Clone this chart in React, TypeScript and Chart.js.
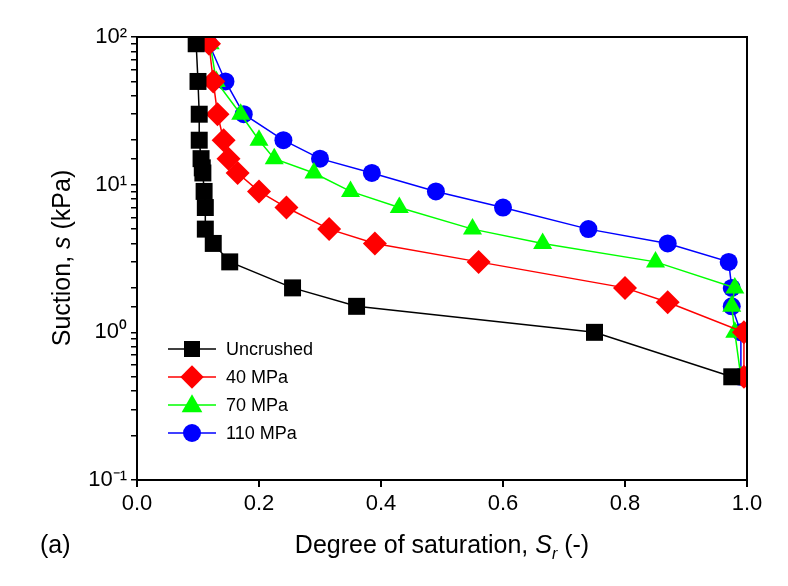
import React, { useEffect, useRef } from "react";
import { Chart, registerables } from "chart.js";
Chart.register(...registerables);

const uncrushedX = [0.097, 0.1, 0.102, 0.102, 0.105, 0.107, 0.108, 0.11, 0.112, 0.112, 0.125, 0.152, 0.255, 0.36, 0.75, 0.975];
const uncrushedY = [90, 50, 30, 20, 15, 13, 12, 9, 7, 5, 4, 3, 2, 1.5, 1, 0.5];
const mpa40X = [0.118, 0.125, 0.132, 0.142, 0.15, 0.165, 0.2, 0.245, 0.315, 0.39, 0.56, 0.8, 0.87, 0.995, 0.995];
const mpa40Y = [90, 50, 30, 20, 15, 12, 9, 7, 5, 4, 3, 2, 1.6, 1, 0.5];
const mpa70X = [0.12, 0.13, 0.17, 0.2, 0.225, 0.29, 0.35, 0.43, 0.55, 0.665, 0.85, 0.98, 0.975, 0.98, 0.99];
const mpa70Y = [90, 50, 30, 20, 15, 12, 9, 7, 5, 4, 3, 2, 1.5, 1, 0.5];
const mpa110X = [0.118, 0.145, 0.175, 0.24, 0.3, 0.385, 0.49, 0.6, 0.74, 0.87, 0.97, 0.975, 0.975, 0.99, 0.99];
const mpa110Y = [90, 50, 30, 20, 15, 12, 9, 7, 5, 4, 3, 2, 1.5, 1, 0.5];
const xTicks = [0, 0.2, 0.4, 0.6, 0.8, 1.0];
const yTickLabels: Record<string, string> = { "0.1": "10⁻¹", "1": "10⁰", "10": "10¹", "100": "10²" };

const series = [
  { label: "Uncrushed", x: uncrushedX, y: uncrushedY, color: "#000000", style: "rect", r: 8, pr: 12 },
  { label: "40 MPa", x: mpa40X, y: mpa40Y, color: "#ff0000", style: "rectRot", r: 9, pr: 12 },
  { label: "70 MPa", x: mpa70X, y: mpa70Y, color: "#00ff00", style: "triangle", r: 9, pr: 11 },
  { label: "110 MPa", x: mpa110X, y: mpa110Y, color: "#0000ff", style: "circle", r: 9, pr: 9 },
];

export default function App() {
  const ref = useRef<HTMLCanvasElement>(null);
  useEffect(() => {
    document.body.style.margin = "0";
    const FONT = "Liberation Sans, Arial, sans-serif";
    const drawPt = (ctx: any, style: string, x: number, y: number, r: number, color: string) => {
      ctx.save();
      ctx.fillStyle = color;
      ctx.beginPath();
      if (style === "rect") ctx.rect(x - r, y - r, 2 * r, 2 * r);
      else if (style === "rectRot") { ctx.moveTo(x, y - r * 1.3); ctx.lineTo(x + r * 1.3, y); ctx.lineTo(x, y + r * 1.3); ctx.lineTo(x - r * 1.3, y); ctx.closePath(); }
      else if (style === "triangle") { ctx.moveTo(x, y - r * 1.2); ctx.lineTo(x + r * 1.15, y + r * 0.8); ctx.lineTo(x - r * 1.15, y + r * 0.8); ctx.closePath(); }
      else ctx.arc(x, y, r, 0, Math.PI * 2);
      ctx.fill();
      ctx.restore();
    };
    const deco = {
      id: "deco",
      afterDraw(chart: any) {
        const ctx = chart.ctx;
        const a = chart.chartArea;
        ctx.save();
        ctx.strokeStyle = "#000";
        ctx.lineWidth = 2;
        ctx.strokeRect(a.left, a.top, a.right - a.left, a.bottom - a.top);
        const lx = 168, ly0 = 349, dy = 28;
        series.forEach((s, i) => {
          const yy = ly0 + i * dy;
          ctx.strokeStyle = s.color; ctx.lineWidth = 1.5;
          ctx.beginPath(); ctx.moveTo(lx, yy); ctx.lineTo(lx + 48, yy); ctx.stroke();
          drawPt(ctx, s.style, lx + 24, yy, s.r, s.color);
          ctx.fillStyle = "#000"; ctx.font = `18px ${FONT}`; ctx.textBaseline = "middle"; ctx.textAlign = "left";
          ctx.fillText(s.label, lx + 58, yy + 1);
        });
        ctx.font = `25px ${FONT}`; ctx.textBaseline = "alphabetic"; ctx.textAlign = "left";
        const p1 = "Degree of saturation, ", p3 = " (-)";
        const w1 = ctx.measureText(p1).width;
        ctx.font = `italic 25px ${FONT}`;
        const w2 = ctx.measureText("S").width;
        ctx.font = `italic 16px ${FONT}`;
        const w2b = ctx.measureText("r").width;
        ctx.font = `25px ${FONT}`;
        const w3 = ctx.measureText(p3).width;
        let x0 = 442 - (w1 + w2 + w2b + w3) / 2;
        const by = 553;
        ctx.fillText(p1, x0, by); x0 += w1;
        ctx.font = `italic 25px ${FONT}`; ctx.fillText("S", x0, by); x0 += w2;
        ctx.font = `italic 16px ${FONT}`; ctx.fillText("r", x0, by + 6); x0 += w2b;
        ctx.font = `25px ${FONT}`; ctx.fillText(p3, x0, by);
        ctx.fillText("(a)", 40, by);
        ctx.translate(70, 258); ctx.rotate(-Math.PI / 2);
        const q1 = "Suction, ", q3 = " (kPa)";
        const v1 = ctx.measureText(q1).width, v3 = ctx.measureText(q3).width;
        ctx.font = `italic 25px ${FONT}`; const v2 = ctx.measureText("s").width;
        let y0 = -(v1 + v2 + v3) / 2;
        ctx.font = `25px ${FONT}`; ctx.fillText(q1, y0, 0); y0 += v1;
        ctx.font = `italic 25px ${FONT}`; ctx.fillText("s", y0, 0); y0 += v2;
        ctx.font = `25px ${FONT}`; ctx.fillText(q3, y0, 0);
        ctx.restore();
      },
    };
    const chart = new Chart(ref.current!, {
      type: "line",
      data: {
        datasets: series.map((s) => ({
          label: s.label,
          data: s.x.map((x, i) => ({ x, y: s.y[i] })),
          borderColor: s.color,
          backgroundColor: s.color,
          borderWidth: 1.5,
          pointStyle: s.style as any,
          pointRadius: s.pr,
          pointBorderWidth: 0,
          tension: 0,
        })),
      },
      options: {
        animation: false,
        responsive: false,
        layout: { padding: { top: 37, right: 41, left: 0, bottom: 0 } },
        plugins: { legend: { display: false }, tooltip: { enabled: false } },
        scales: {
          x: {
            type: "linear", min: 0, max: 1,
            afterFit: (s: any) => { s.height = 106; },
            afterBuildTicks: (s: any) => { s.ticks = xTicks.map((v) => ({ value: v })); },
            ticks: { color: "#000", font: { size: 22, family: FONT }, padding: 4, callback: (v: any) => Number(v).toFixed(1) },
            grid: { drawOnChartArea: false, color: "#000", tickLength: 7, lineWidth: 2 },
            border: { color: "#000", width: 2 },
          },
          y: {
            type: "logarithmic", min: 0.1, max: 100,
            afterFit: (s: any) => { s.width = 137; },
            ticks: {
              color: "#000", font: { size: 22, family: FONT }, padding: 4, autoSkip: false,
              callback: (v: any) => yTickLabels[String(Number(v))] ?? "",
            },
            grid: { drawOnChartArea: false, color: "#000", tickLength: 6, lineWidth: 1.5 },
            border: { color: "#000", width: 2 },
          },
        },
      },
      plugins: [deco],
    });
    return () => chart.destroy();
  }, []);
  return <canvas ref={ref} width={788} height={586} style={{ display: "block", background: "#fff" }} />;
}
